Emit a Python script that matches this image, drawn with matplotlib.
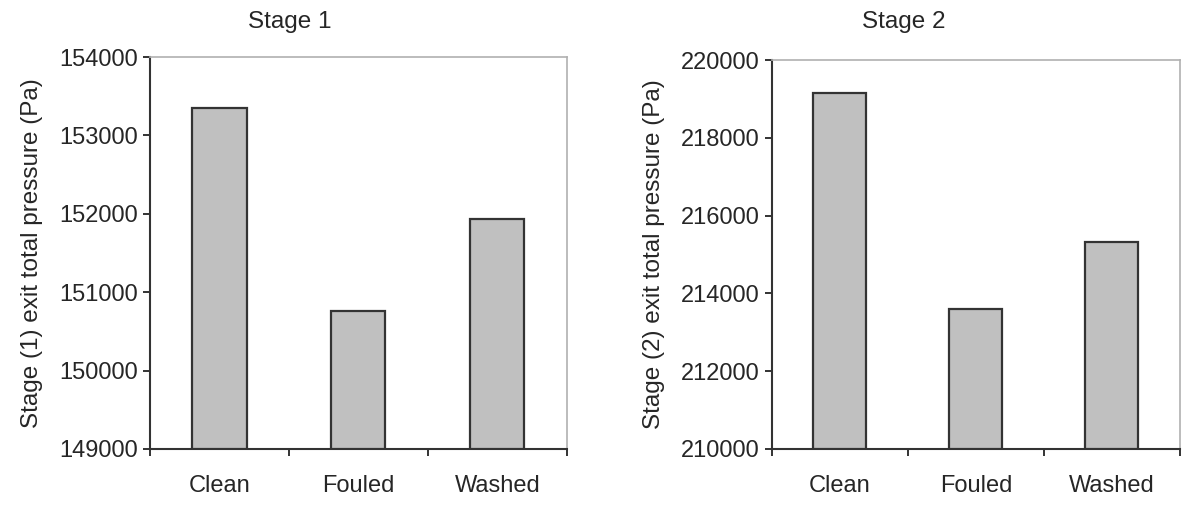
import matplotlib
matplotlib.use("Agg")
import matplotlib.pyplot as plt
import numpy as np

plt.rcParams['font.family'] = ['Liberation Sans', 'DejaVu Sans']

# Exit total pressure per compressor condition
conditions = ['Clean', 'Fouled', 'Washed']
stage1_pressure = [153355, 150760, 151930]
stage2_pressure = [219150, 213590, 215310]
stage1_ticks = [149000, 150000, 151000, 152000, 153000, 154000]
stage2_ticks = [210000, 212000, 214000, 216000, 218000, 220000]

TEXT = '#262626'
TICK_FS = 17
LABEL_FS = 17.5


def draw_stage(ax, values, yticks, ylabel):
    """Bar chart of one stage with Excel-like frame"""
    x = np.arange(len(values)) + 0.5
    ax.bar(x, np.array(values) - yticks[0], bottom=yticks[0], width=0.39,
           color='#c0c0c0', edgecolor='#333333', linewidth=1.6, zorder=3)
    ax.set_xlim(0, len(values))
    ax.set_ylim(yticks[0], yticks[-1])

    ax.set_yticks(yticks)
    ax.set_yticklabels([str(t) for t in yticks], fontsize=TICK_FS, color=TEXT)
    ax.set_xticks(np.arange(len(values) + 1))
    ax.set_xticklabels([])
    ax.set_xticks(x, minor=True)
    ax.set_xticklabels(conditions, minor=True, fontsize=TICK_FS, color=TEXT)
    ax.tick_params(axis='x', which='minor', length=0, pad=19)
    ax.tick_params(axis='x', which='major', length=5, width=1.4, color='#333333')
    ax.tick_params(axis='y', length=5, width=1.4, color='#333333', pad=4)

    for side in ['left', 'bottom']:
        ax.spines[side].set_color('#333333')
        ax.spines[side].set_linewidth(1.5)
    for side in ['top', 'right']:
        ax.spines[side].set_color('#b0b0b0')
        ax.spines[side].set_linewidth(1.2)

    ax.set_ylabel(ylabel, fontsize=LABEL_FS, color=TEXT, labelpad=11)


fig = plt.figure(figsize=(11.84, 5.05), dpi=100)
ax1 = fig.add_axes([0.1267, 0.111, 0.352, 0.776])
ax2 = fig.add_axes([0.652, 0.111, 0.3446, 0.770])

draw_stage(ax1, stage1_pressure, stage1_ticks,
           'Stage (1) exit total pressure (Pa)')
draw_stage(ax2, stage2_pressure, stage2_ticks,
           'Stage (2) exit total pressure (Pa)')

# Panel titles sit left of each axes centre
fig.text(0.245, 0.956, 'Stage 1', fontsize=LABEL_FS, color=TEXT,
         ha='center', va='center')
fig.text(0.763, 0.956, 'Stage 2', fontsize=LABEL_FS, color=TEXT,
         ha='center', va='center')

fig.savefig('out.png', dpi=100)
